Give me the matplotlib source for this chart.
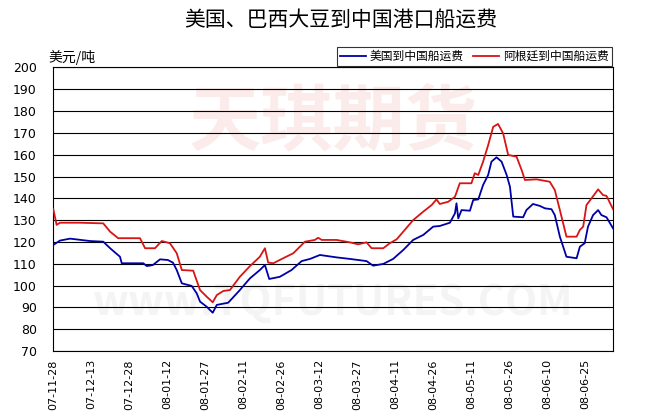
import matplotlib
matplotlib.use('Agg')
import numpy as np
import matplotlib.pyplot as plt

plt.rcParams['font.family'] = ['Noto Sans CJK SC', 'DejaVu Sans']

# days after 2007-11-28
us_days = [0, 2.6, 6.6, 14.5, 19.7, 22.4, 26.3, 27, 35.5, 36.9, 39.3, 42.1, 45.2, 47.2,
           48.7, 50.7, 54.6, 56.6, 57.9, 60.5, 62.9, 64.5, 69, 73.6, 77.6, 81.5, 83.5,
           85.2, 89.4, 94, 98, 101.3, 105.2, 111.8, 117, 123.6, 126.2, 130.2, 134.1,
           138.1, 142, 146, 149.9, 152.5, 156.5, 158.5, 159.1, 159.8, 161.1, 164.4,
           165.7, 167.7, 169.6, 171.6, 172.9, 174.9, 176.9, 178.9, 180.2, 181.5, 185.4,
           186.7, 189.3, 192, 194, 196.6, 197.9, 199.9, 202.5, 206.5, 207.8, 209.7,
           211, 213, 215, 216.3, 218.3, 220.9]
us_vals = [118.6, 120.6, 121.5, 120.4, 120.1, 117.1, 113.2, 110.2, 110.2, 108.9, 109.4,
           112, 111.7, 110.5, 107.1, 101, 99.8, 96.4, 92.6, 90.3, 87.5, 91.1, 92.1, 97.9,
           103.3, 107.1, 109.4, 103, 104, 107.1, 111.2, 112.2, 114, 112.9, 112.2, 111.2,
           109.1, 109.9, 112.2, 116.3, 120.9, 123.2, 127, 127.3, 128.8, 133.1, 137.7,
           130.8, 134.6, 134.3, 139.2, 139.5, 146.1, 150.7, 156.8, 158.8, 156.8, 150.7,
           145.3, 131.6, 131.3, 134.6, 137.4, 136.5, 135.4, 135, 132.3, 122.4, 113.2,
           112.5, 117.8, 119.4, 127, 132.3, 134.6, 132.3, 131.3, 126.2]

ar_days = [0, 1.3, 2.6, 10.5, 19.7, 22.4, 25.6, 34.2, 36.2, 40.1, 42.8, 46, 48.7, 50.7,
           55.2, 57.9, 60.5, 62.9, 64.5, 67.1, 69.7, 73.6, 77.6, 81.5, 83.5, 84.8, 86.8,
           90.7, 94.7, 99.3, 103.2, 104.5, 105.9, 111.8, 117, 120.3, 123.6, 125.6, 130.2,
           132.8, 135.5, 138.1, 142, 146, 149.3, 151.2, 152.5, 155.8, 158.5, 160.4, 165,
           166.3, 167.7, 169.6, 171.6, 173.6, 175.5, 177.5, 179.5, 182.8, 184.8, 186.1,
           190.7, 195.9, 197.9, 199.9, 202.5, 206.5, 207.8, 209.1, 210.4, 212.4, 215,
           216.9, 218.3, 220.9]
ar_vals = [135, 127.8, 128.8, 128.8, 128.5, 124.7, 121.7, 121.7, 117.1, 117.1, 120.4,
           119.4, 114.8, 107.1, 106.8, 97.9, 94.9, 92.3, 95.6, 97.5, 97.9, 104, 108.9,
           113.2, 117.1, 110.5, 110.2, 112.5, 114.8, 120.1, 120.9, 121.9, 120.9, 120.9,
           119.8, 118.9, 119.8, 117.1, 117.1, 119.4, 121.2, 124.7, 130, 133.9, 136.9,
           139.5, 137.4, 138.4, 140.7, 146.9, 146.9, 151.5, 150.7, 156.8, 164.4, 172.8,
           174.1, 169.8, 159.9, 159.1, 153, 148.4, 148.7, 147.6, 143.8, 134.6, 122.4,
           122.4, 125.5, 127, 136.9, 140, 144.1, 141.5, 141.1, 135]

tick_labels = ['07-11-28', '07-12-13', '07-12-28', '08-01-12', '08-01-27', '08-02-11',
               '08-02-26', '08-03-12', '08-03-27', '08-04-11', '08-04-26', '08-05-11',
               '08-05-26', '08-06-10', '08-06-25']

fig = plt.figure(figsize=(6.52, 4.2), dpi=100)
ax = fig.add_axes([0.0818, 0.1645, 0.8589, 0.6748])

# watermark
ax.text(0.5, 0.80, '天琪期货', transform=ax.transAxes, ha='center', va='center',
        fontsize=52, fontweight='bold', color='#fcebeb', zorder=0)
ax.text(0.5, 0.17, 'www.TQFUTURES.COM', transform=ax.transAxes, ha='center', va='center',
        fontsize=30, fontweight='bold', color='#f4f4f4', zorder=0)

ax.plot(us_days, us_vals, color='#0000a8', lw=1.3, label='美国到中国船运费', zorder=3)
ax.plot(ar_days, ar_vals, color='#d81414', lw=1.3, label='阿根廷到中国船运费', zorder=3)

ax.set_xlim(0, 221)
ax.set_ylim(70, 200)
ax.set_yticks(np.arange(70, 201, 10))
ax.set_xticks(np.arange(0, 15 * len(tick_labels), 15))
ax.set_xticklabels(tick_labels, rotation=90, family='DejaVu Sans', fontsize=8)
ax.tick_params(axis='y', labelsize=9, length=0, pad=12)
ax.tick_params(axis='x', length=0, pad=6)
for lab in ax.get_yticklabels():
    lab.set_family('DejaVu Sans')
ax.grid(axis='y', color='black', lw=0.8)
for s in ax.spines.values():
    s.set_color('black')
    s.set_linewidth(0.8)

fig.text(0.523, 0.952, '美国、巴西大豆到中国港口船运费', ha='center', va='center', fontsize=15)
fig.text(0.074, 0.864, '美元/吨', ha='left', va='center', fontsize=10)

leg = fig.legend(loc='upper right', bbox_to_anchor=(0.947, 0.902), ncol=2, fontsize=8.5,
                 frameon=True, fancybox=False, handlelength=2.2, handletextpad=0.3,
                 columnspacing=0.8, borderpad=0.25)
leg.get_frame().set_edgecolor('black')
leg.get_frame().set_linewidth(0.8)

plt.savefig('out.png', dpi=100)
